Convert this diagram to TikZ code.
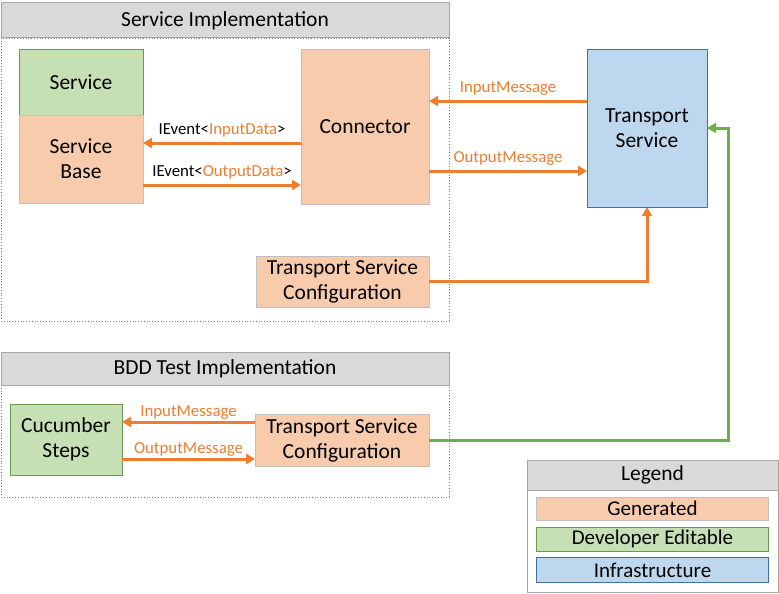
\documentclass[tikz,border=0pt]{standalone}
\usepackage{fontspec}
\setmainfont{Carlito}
\usepackage{xcolor}
\usepackage{tikz}
\usetikzlibrary{positioning,arrows.meta}
\definecolor{genfill}{HTML}{F8CBAD}
\definecolor{genline}{HTML}{BFBFBF}
\definecolor{devfill}{HTML}{C5E0B4}
\definecolor{devline}{HTML}{6A9A4C}
\definecolor{infrafill}{HTML}{BDD7EE}
\definecolor{infraline}{HTML}{41719C}
\definecolor{headfill}{HTML}{D9D9D9}
\definecolor{headline}{HTML}{A6A6A6}
\definecolor{msgorange}{HTML}{ED7D31}
\definecolor{linkgreen}{HTML}{70AD47}
\newcommand{\bxfont}{\fontsize{21.5}{25}\selectfont}
\newcommand{\hdfont}{\fontsize{21.5}{24}\selectfont}
\newcommand{\lgfont}{\fontsize{21}{24}\selectfont}
\newcommand{\lbfont}{\fontsize{16.8}{19}\selectfont}

\begin{document}
\begin{tikzpicture}[
  x=1pt, y=-1pt,
  every node/.style={outer sep=0pt},
  gen/.style={rectangle, draw=genline, fill=genfill, align=center, font=\bxfont},
  dev/.style={rectangle, draw=devline, fill=devfill, align=center, font=\bxfont},
  infra/.style={rectangle, draw=infraline, fill=infrafill, align=center, font=\bxfont},
  head/.style={rectangle, draw=headline, fill=headfill, line width=1pt, font=\hdfont},
  frame/.style={rectangle, draw=gray, dotted, line width=0.8pt},
  flow/.style={draw=msgorange, line width=3pt, -{Triangle[length=9pt,width=10pt]}},
  link/.style={draw=linkgreen, line width=3pt, -{Triangle[length=9pt,width=10pt]}},
  lbl/.style={font=\lbfont, inner sep=3pt}
]
\useasboundingbox (0,0) rectangle (779,594);

\node[frame, minimum width=448, minimum height=283] (sibody) at (225,179.5) {};
\node[head, minimum width=448, minimum height=35] (sihead) at (225,20.5) {Service Implementation};
\node[dev, minimum width=124, minimum height=66] (service) at (81,82) {Service};
\node[gen, minimum width=124, minimum height=88, below=0pt of service] (base) {Service\\Base};
\node[gen, minimum width=128, minimum height=155] (connector) at (365,126.5) {Connector};
\node[infra, minimum width=120, minimum height=158] (transport) at (647,128) {Transport\\Service};
\node[gen, minimum width=173, minimum height=51] (tsconf) at (342.5,281.5) {Transport Service\\Configuration};

\node[frame, minimum width=448, minimum height=112] (bddbody) at (225,441) {};
\node[head, minimum width=448, minimum height=33] (bddhead) at (225,368.5) {BDD Test Implementation};
\node[dev, minimum width=112, minimum height=71] (cucumber) at (66,439.5) {Cucumber\\Steps};
\node[gen, minimum width=174, minimum height=52] (bddconf) at (342,440) {Transport Service\\Configuration};

\node[rectangle, draw=headline, line width=1pt, minimum width=251, minimum height=102] (legbody) at (652.5,541) {};
\node[head, minimum width=251, minimum height=30] (leghead) at (652.5,475) {Legend};
\node[gen, minimum width=232, minimum height=23, font=\lgfont, below=7pt of leghead] (lgen) {Generated};
\node[dev, minimum width=232, minimum height=24, font=\lgfont, below=7pt of lgen] (ldev) {Developer Editable};
\node[infra, minimum width=232, minimum height=25, font=\lgfont, below=6pt of ldev] (linfra) {Infrastructure};

\draw[flow] (connector.west |- 0,143) -- node[lbl, above=3pt] {IEvent<\textcolor{msgorange}{InputData}>} (base.east |- 0,143);
\draw[flow] (base.east |- 0,185) -- node[lbl, above=3pt] {IEvent<\textcolor{msgorange}{OutputData}>} (connector.west |- 0,185);
\draw[flow] (transport.west |- 0,101) -- node[lbl, above=3pt, text=msgorange] {InputMessage} (connector.east |- 0,101);
\draw[flow] (connector.east |- 0,171) -- node[lbl, above=3pt, text=msgorange] {OutputMessage} (transport.west |- 0,171);
\draw[flow] (tsconf.east) -| (transport.south);

\draw[flow] (bddconf.west |- 0,422) -- node[lbl, above=0pt, text=msgorange] {InputMessage} (cucumber.east |- 0,422);
\draw[flow] (cucumber.east |- 0,459) -- node[lbl, above=0pt, text=msgorange] {OutputMessage} (bddconf.west |- 0,459);
\draw[link] (bddconf.east) -| ([xshift=21pt]transport.east) -- (transport.east);
\end{tikzpicture}
\end{document}
